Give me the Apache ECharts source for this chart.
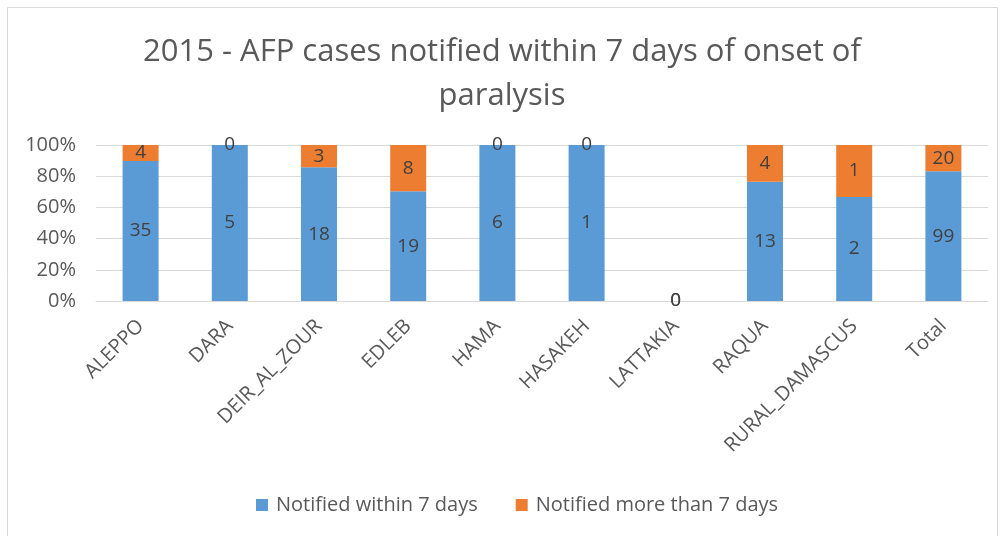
<!DOCTYPE html>
<html lang="en">
<head>
    <meta charset="UTF-8">
    <title>AFP cases 2015</title>
    <script src="https://cdn.jsdelivr.net/npm/echarts@6/dist/echarts.min.js"></script>
    <style>
        html, body { margin: 0; padding: 0; background: #fff; }
        #chart { width: 1004px; height: 536px; }
    </style>
</head>
<body>
    <div id="chart"></div>
</body>
<script type="text/javascript">
    // counts per governorate
    var categories = ['ALEPPO', 'DARA', 'DEIR_AL_ZOUR', 'EDLEB', 'HAMA', 'HASAKEH', 'LATTAKIA', 'RAQUA', 'RURAL_DAMASCUS', 'Total'];
    var within7 = [35, 5, 18, 19, 6, 1, 0, 13, 2, 99];
    var moreThan7 = [4, 0, 3, 8, 0, 0, 0, 4, 1, 20];
    var yTicks = [0, 20, 40, 60, 80, 100];

    var FONT = '"Open Sans", "Noto Sans", sans-serif';

    // share of each category, as percent
    function share(arr) {
        return arr.map(function (v, i) {
            var tot = within7[i] + moreThan7[i];
            return tot ? v / tot * 100 : 0;
        });
    }

    var chartDom = document.getElementById('chart');
    var myChart = echarts.init(chartDom, null, { renderer: 'canvas' });

    var labelStyle = {
        show: true,
        position: 'inside',
        color: '#404040',
        fontSize: 19,
        fontFamily: FONT
    };

    var option = {
        animation: false,
        backgroundColor: '#fff',
        title: {
            text: '2015 - AFP cases notified within 7 days of onset of\nparalysis',
            left: 'center',
            top: 25,
            textStyle: {
                color: '#595959',
                fontSize: 31,
                fontWeight: 'normal',
                fontFamily: FONT,
                lineHeight: 44
            }
        },
        graphic: [{
            type: 'rect',
            shape: { x: 7.5, y: 7.5, width: 990, height: 540 },
            style: { fill: 'none', stroke: '#d9d9d9', lineWidth: 1 },
            silent: true
        }],
        legend: {
            top: 490,
            left: 251,
            itemWidth: 12,
            itemHeight: 12,
            itemGap: 38,
            icon: 'rect',
            textStyle: { color: '#595959', fontSize: 20, fontFamily: FONT, padding: [0, 0, 0, 3] },
            data: ['Notified within 7 days', 'Notified more than 7 days']
        },
        grid: { left: 96, right: 16, top: 145, bottom: 235, containLabel: false },
        xAxis: {
            type: 'category',
            data: categories,
            axisLine: { show: true, lineStyle: { color: '#d9d9d9', width: 1 } },
            axisTick: { show: false },
            axisLabel: {
                rotate: 45,
                interval: 0,
                margin: 22,
                color: '#595959',
                fontSize: 20,
                fontFamily: FONT
            }
        },
        yAxis: {
            type: 'value',
            min: yTicks[0],
            max: yTicks[yTicks.length - 1],
            interval: 20,
            axisLine: { show: false },
            axisTick: { show: false },
            splitLine: { lineStyle: { color: '#d9d9d9', width: 1 } },
            axisLabel: {
                formatter: '{value}%',
                color: '#595959',
                fontSize: 20,
                fontFamily: FONT,
                margin: 20
            }
        },
        series: [
            {
                name: 'Notified within 7 days',
                type: 'bar',
                stack: 'total',
                barWidth: 36,
                itemStyle: { color: '#5b9bd5' },
                label: Object.assign({}, labelStyle, {
                    formatter: function (p) { return within7[p.dataIndex]; }
                }),
                data: share(within7)
            },
            {
                name: 'Notified more than 7 days',
                type: 'bar',
                stack: 'total',
                barWidth: 36,
                itemStyle: { color: '#ed7d31' },
                label: Object.assign({}, labelStyle, {
                    formatter: function (p) { return moreThan7[p.dataIndex]; }
                }),
                data: share(moreThan7)
            }
        ]
    };

    myChart.setOption(option);
</script>
</html>
